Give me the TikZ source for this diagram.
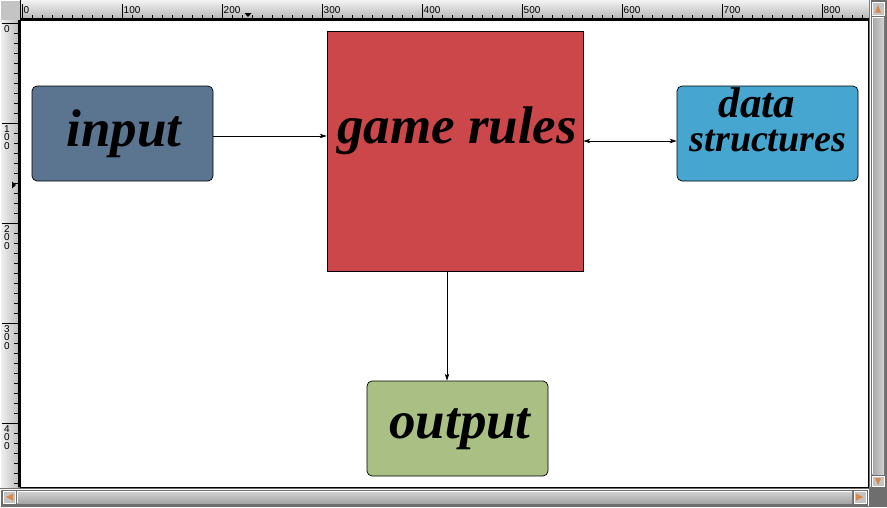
\documentclass[tikz,border=0pt]{standalone}
\usepackage{fontspec}
\setmainfont{Liberation Serif}
\setsansfont{Liberation Sans}
\usetikzlibrary{arrows.meta}
\definecolor{inputcol}{HTML}{5B7590}
\definecolor{rulescol}{HTML}{CC4749}
\definecolor{datacol}{HTML}{46A6CF}
\definecolor{outputcol}{HTML}{A9BF83}
\definecolor{framegray}{HTML}{6E6E6E}
\definecolor{btngray}{HTML}{C4C4C4}
\definecolor{arroworange}{HTML}{D9884A}
\begin{document}
\begin{tikzpicture}[x=1pt,y=-1pt,
  box/.style={draw=black, line width=0.7pt, rounded corners=5pt, inner sep=0pt,
    minimum width=181pt, minimum height=95pt},
  bigtext/.style={inner sep=0pt, anchor=base, font=\bfseries\itshape\fontsize{53}{55}\selectfont},
  midtext/.style={inner sep=0pt, anchor=base, align=center, font=\bfseries\itshape\fontsize{38}{34}\selectfont},
  conn/.style={line width=0.7pt, -{Stealth[length=7pt,width=4.5pt,inset=2pt]}},
  biconn/.style={line width=0.7pt, {Stealth[length=7pt,width=4.5pt,inset=2pt]}-{Stealth[length=7pt,width=4.5pt,inset=2pt]}},
  tick/.style={line width=0.6pt, black},
  rulerlbl/.style={inner sep=0pt, font=\sffamily\fontsize{10}{10}\selectfont},
  btn/.style={fill=btngray, draw=white, line width=0.6pt},
]
\useasboundingbox (0,0) rectangle (887,507);
% window background
\fill[framegray] (0,0) rectangle (887,507);
% canvas
\fill[white] (20,20) rectangle (869,487);
% top-left corner
\fill[btngray] (0,0) rectangle (20,20);
\draw[white, line width=1pt] (0.5,19.5) -- (0.5,0.5) -- (19.5,0.5);
% top ruler
\shade[top color=white!90!gray, bottom color=gray!55] (20,0) rectangle (869,18);
\draw[black, line width=1.5pt] (20,18.75) -- (869,18.75);
\draw[black, line width=1pt] (20.5,0) -- (20.5,20);
\foreach \i in {0,10,...,840} { \draw[tick] (22+\i,18) -- (22+\i,14.5); }
\foreach \i in {0,100,...,800} {
  \draw[tick] (22+\i,18) -- (22+\i,4);
  \node[rulerlbl, anchor=west] (tl\i) at (23.5+\i,10) {\i};
}
\fill[black] (244.5,13) -- (251.5,13) -- (248,17) -- cycle;
% left ruler
\shade[left color=white!90!gray, right color=gray!50] (0,20) rectangle (18,487);
\draw[black, line width=1.5pt] (18.75,20) -- (18.75,487);
\draw[white, line width=1pt] (0.5,20) -- (0.5,487);
\foreach \i in {0,10,...,460} { \draw[tick] (18,23+\i) -- (14,23+\i); }
\draw[tick] (2,23) -- (18,23);
\node[rulerlbl] (ll0) at (7,29) {0};
\foreach \i/\d in {100/1,200/2,300/3,400/4} {
  \draw[tick] (2,23+\i) -- (18,23+\i);
  \node[rulerlbl] (ll\i a) at (7,29+\i) {\d};
  \node[rulerlbl] (ll\i b) at (7,37.5+\i) {0};
  \node[rulerlbl] (ll\i c) at (7,46+\i) {0};
}
\fill[black] (12,181.5) -- (12,188.5) -- (16,185) -- cycle;
% right scrollbar
\draw[white, line width=1pt] (870.5,0) -- (870.5,487);
\shade[left color=gray!70, right color=gray!35] (872,17) rectangle (884,474);
\draw[white, line width=0.6pt] (872,474) -- (872,17) -- (884,17);
\draw[btn] (872,2) rectangle (884,15);
\fill[arroworange] (875,12.5) -- (881,12.5) -- (878,5) -- cycle;
\draw[btn] (872,476) rectangle (884,486);
\fill[arroworange] (875,478) -- (881,478) -- (878,485) -- cycle;
% bottom scrollbar
\draw[white, line width=1pt] (0,489.5) -- (869,489.5);
\shade[top color=gray!35, bottom color=gray!70] (17,491) rectangle (852,503);
\draw[white, line width=0.6pt] (17,503) -- (17,491) -- (852,491);
\draw[btn] (3,491) rectangle (15,503);
\fill[arroworange] (13,493.5) -- (13,500.5) -- (6,497) -- cycle;
\draw[btn] (854,491) rectangle (866,503);
\fill[arroworange] (856,493.5) -- (856,500.5) -- (863,497) -- cycle;
\draw[white, line width=1pt] (0.5,489) -- (0.5,507);
\draw[white, line width=1pt] (868,505.5) -- (868,489);
% canvas frame
\draw[black, line width=1pt] (20,20) rectangle (868.5,487.5);

% diagram boxes
\node[box, fill=inputcol] (input) at (122.5,133.5) {};
\node[draw=black, line width=0.7pt, fill=rulescol, inner sep=0pt,
      minimum width=256pt, minimum height=240pt] (rules) at (455,151) {};
\node[box, fill=datacol] (data) at (767.5,133.5) {};
\node[box, fill=outputcol] (output) at (457.5,428.5) {};

% texts
\node[bigtext] (inputtxt) at (124,146) {input};
\node[bigtext] (rulestxt) at (457,143) {game rules};
\node[midtext] (datatxt) at (768,151) {{\fontsize{43}{34}\selectfont data}\hspace*{22pt}\\structures};
\node[bigtext] (outputtxt) at (460,438) {output};

% connectors
\draw[conn] (input.east |- 0,136) -- (rules.west |- 0,136);
\draw[biconn] (rules.east |- 0,141) -- (data.west |- 0,141);
\draw[conn] (rules.south -| 447,0) -- (output.north -| 447,0);
\end{tikzpicture}
\end{document}
